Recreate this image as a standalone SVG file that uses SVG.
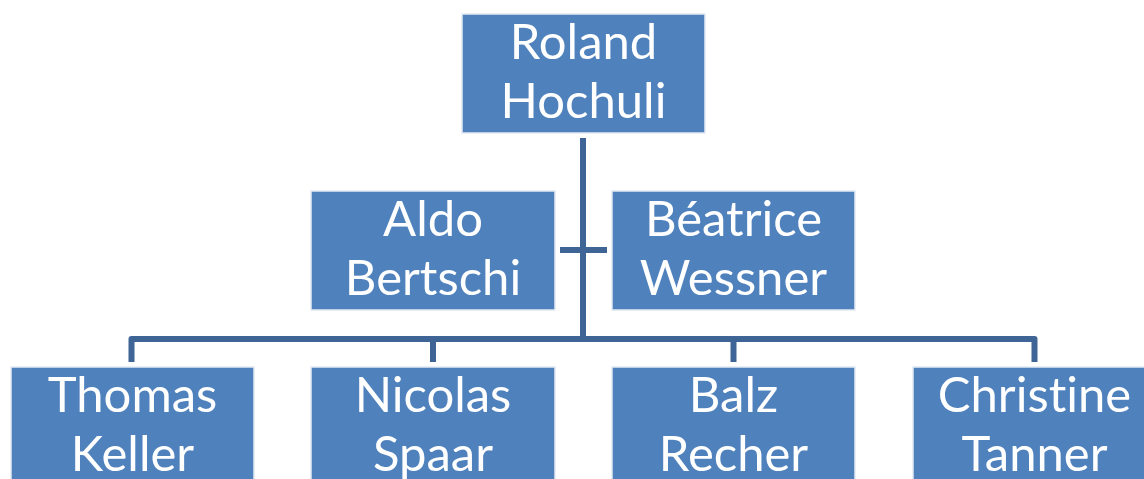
<svg xmlns="http://www.w3.org/2000/svg" width="1144" height="479" viewBox="0 0 1144 479">
<style>
.box{fill:#4F81BD;stroke:#E3EAF4;stroke-width:1.5}
.t{font-family:Lato,"Open Sans","Liberation Sans",sans-serif;font-size:49px;fill:#FFFFFF;text-anchor:middle;font-variant-ligatures:none;font-feature-settings:"liga" 0}
.c{fill:none;stroke:#3F6596;stroke-width:6;stroke-linejoin:round}
</style>
<rect width="1144" height="479" fill="#FFFFFF"/>
<g id="connectors">
<path class="c" d="M583,138 V339"/>
<path class="c" d="M560,250 H607"/>
<path class="c" d="M131.5,362 V339 H1034.5 V362"/>
<path class="c" d="M433,339 V362"/>
<path class="c" d="M733.5,339 V362"/>
</g>
<g id="roland">
<rect class="box" x="462" y="14" width="243" height="119"/>
<text class="t" x="583.5" y="59">Roland</text>
<text class="t" x="583.5" y="118">Hochuli</text>
</g>
<g id="aldo">
<rect class="box" x="311" y="191" width="244" height="119"/>
<text class="t" x="433" y="236">Aldo</text>
<text class="t" x="433" y="295">Bertschi</text>
</g>
<g id="beatrice">
<rect class="box" x="612" y="191" width="243" height="119"/>
<text class="t" x="733.5" y="236">Béatrice</text>
<text class="t" x="733.5" y="295">Wessner</text>
</g>
<g id="thomas">
<rect class="box" x="11" y="367" width="243" height="119"/>
<text class="t" x="132.5" y="412">Thomas</text>
<text class="t" x="132.5" y="471">Keller</text>
</g>
<g id="nicolas">
<rect class="box" x="311" y="367" width="244" height="119"/>
<text class="t" x="433" y="412">Nicolas</text>
<text class="t" x="433" y="471">Spaar</text>
</g>
<g id="balz">
<rect class="box" x="612" y="367" width="243" height="119"/>
<text class="t" x="733.5" y="412">Balz</text>
<text class="t" x="733.5" y="471">Recher</text>
</g>
<g id="christine">
<rect class="box" x="913" y="367" width="243" height="119"/>
<text class="t" x="1034.5" y="412">Christine</text>
<text class="t" x="1034.5" y="471">Tanner</text>
</g>
</svg>
